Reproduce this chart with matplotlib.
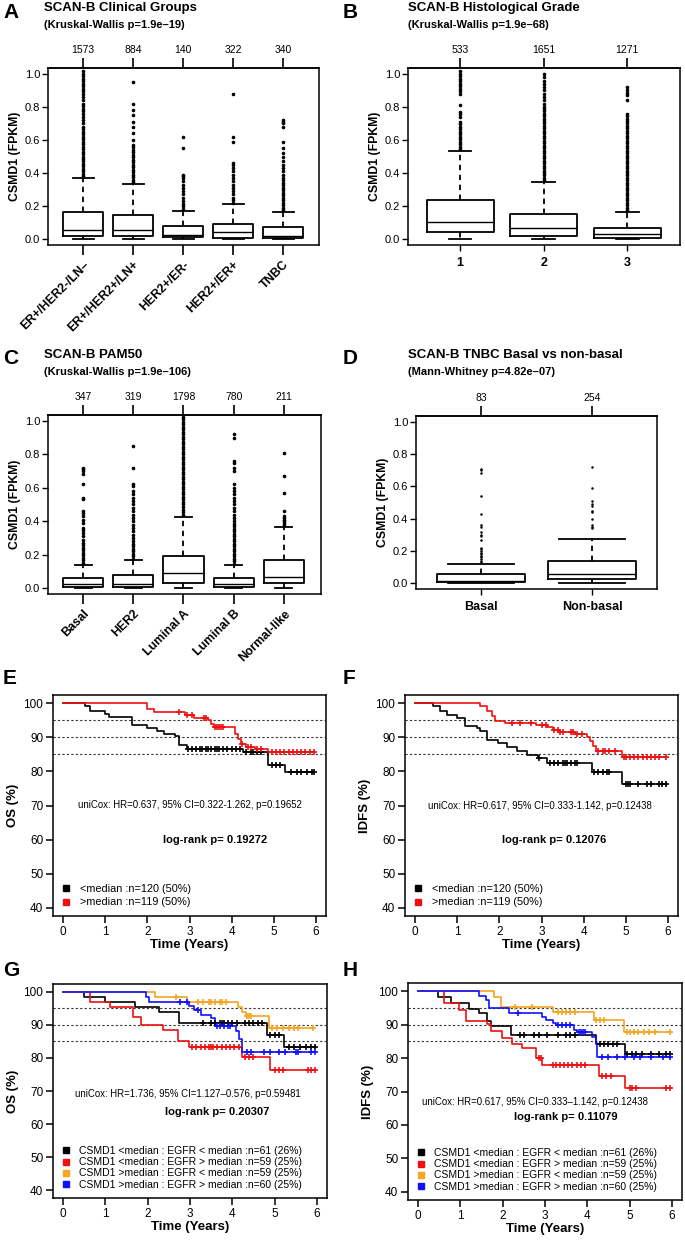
import numpy as np
import matplotlib
matplotlib.use('Agg')
import matplotlib.pyplot as plt
from matplotlib.lines import Line2D

plt.rcParams['font.family'] = ['Liberation Sans', 'DejaVu Sans']
plt.rcParams['axes.linewidth'] = 1.1

# ---------------- box plot data (CSMD1 FPKM) ----------------
a_cats = ['ER+/HER2-/LN–', 'ER+/HER2+/LN+', 'HER2+/ER-', 'HER2+/ER+', 'TNBC']
a_n = [1573, 884, 140, 322, 340]
a_q1 = [0.018, 0.018, 0.010, 0.008, 0.008]
a_med = [0.055, 0.055, 0.024, 0.040, 0.020]
a_q3 = [0.164, 0.145, 0.080, 0.090, 0.075]
a_lo = [0.0, 0.0, 0.0, 0.0, 0.0]
a_hi = [0.370, 0.333, 0.172, 0.210, 0.164]
a_out = [
    [0.38, 0.395, 0.41, 0.425, 0.44, 0.455, 0.47, 0.485, 0.50, 0.515, 0.53, 0.545, 0.56, 0.575,
     0.59, 0.605, 0.62, 0.635, 0.65, 0.665, 0.68, 0.70, 0.72, 0.74, 0.76, 0.775, 0.79, 0.805,
     0.82, 0.84, 0.86, 0.88, 0.895, 0.91, 0.925, 0.94, 0.955, 0.97, 0.985, 1.0, 1.02],
    [0.345, 0.36, 0.375, 0.39, 0.405, 0.42, 0.435, 0.45, 0.465, 0.48, 0.495, 0.51, 0.525, 0.54,
     0.555, 0.57, 0.60, 0.64, 0.68, 0.71, 0.75, 0.78, 0.82, 0.95],
    [0.185, 0.20, 0.215, 0.23, 0.25, 0.27, 0.29, 0.31, 0.33, 0.35, 0.37, 0.38, 0.39, 0.55, 0.62],
    [0.22, 0.235, 0.25, 0.27, 0.29, 0.31, 0.33, 0.35, 0.37, 0.39, 0.41, 0.43, 0.45, 0.46, 0.59,
     0.62, 0.88],
    [0.175, 0.19, 0.205, 0.22, 0.235, 0.25, 0.265, 0.28, 0.295, 0.31, 0.325, 0.34, 0.355, 0.37,
     0.39, 0.41, 0.43, 0.45, 0.47, 0.50, 0.52, 0.55, 0.59, 0.68, 0.70, 0.71, 0.72],
]

b_cats = ['1', '2', '3']
b_n = [533, 1651, 1271]
b_q1 = [0.040, 0.020, 0.008]
b_med = [0.105, 0.065, 0.030]
b_q3 = [0.236, 0.150, 0.065]
b_lo = [0.0, 0.0, 0.0]
b_hi = [0.535, 0.345, 0.164]
b_out = [
    [0.545, 0.56, 0.575, 0.59, 0.605, 0.62, 0.635, 0.65, 0.665, 0.68, 0.695, 0.71, 0.74, 0.755,
     0.77, 0.81, 0.88, 0.895, 0.91, 0.925, 0.94, 0.955, 0.97, 0.985, 1.0, 1.02],
    [0.355, 0.37, 0.385, 0.40, 0.415, 0.43, 0.445, 0.46, 0.475, 0.49, 0.505, 0.52, 0.535, 0.55,
     0.565, 0.58, 0.595, 0.61, 0.625, 0.64, 0.655, 0.67, 0.685, 0.70, 0.715, 0.73, 0.745, 0.76,
     0.775, 0.79, 0.80, 0.82, 0.84, 0.86, 0.88, 0.90, 0.92, 0.94, 0.96, 0.98, 1.0],
    [0.175, 0.19, 0.205, 0.22, 0.235, 0.25, 0.265, 0.28, 0.295, 0.31, 0.325, 0.34, 0.355, 0.37,
     0.385, 0.40, 0.415, 0.43, 0.445, 0.46, 0.475, 0.49, 0.505, 0.52, 0.535, 0.55, 0.565, 0.58,
     0.595, 0.61, 0.625, 0.64, 0.655, 0.67, 0.685, 0.70, 0.715, 0.73, 0.745, 0.76, 0.84, 0.87,
     0.885, 0.90, 0.92],
]

c_cats = ['Basal', 'HER2', 'Luminal A', 'Luminal B', 'Normal-like']
c_n = [347, 319, 1798, 780, 211]
c_q1 = [0.008, 0.008, 0.032, 0.008, 0.030]
c_med = [0.025, 0.025, 0.088, 0.025, 0.066]
c_q3 = [0.062, 0.076, 0.192, 0.062, 0.170]
c_lo = [0.0, 0.0, 0.0, 0.0, 0.0]
c_hi = [0.138, 0.166, 0.426, 0.135, 0.367]
c_out = [
    [0.15, 0.165, 0.18, 0.195, 0.21, 0.225, 0.24, 0.255, 0.27, 0.29, 0.31, 0.33, 0.35, 0.36,
     0.39, 0.41, 0.43, 0.45, 0.46, 0.53, 0.54, 0.62, 0.68, 0.70, 0.71, 0.72],
    [0.175, 0.19, 0.205, 0.22, 0.235, 0.25, 0.265, 0.28, 0.30, 0.32, 0.34, 0.36, 0.38, 0.40,
     0.42, 0.44, 0.46, 0.48, 0.50, 0.52, 0.54, 0.56, 0.58, 0.61, 0.62, 0.72, 0.85],
    [0.44, 0.455, 0.47, 0.485, 0.50, 0.515, 0.53, 0.545, 0.56, 0.575, 0.59, 0.605, 0.62, 0.635,
     0.65, 0.665, 0.68, 0.695, 0.71, 0.725, 0.74, 0.755, 0.77, 0.785, 0.80, 0.815, 0.83, 0.845,
     0.86, 0.875, 0.89, 0.905, 0.92, 0.935, 0.95, 0.965, 0.98, 0.995, 1.01, 1.025],
    [0.145, 0.16, 0.175, 0.19, 0.205, 0.22, 0.235, 0.25, 0.265, 0.28, 0.295, 0.31, 0.325, 0.34,
     0.355, 0.37, 0.385, 0.40, 0.42, 0.44, 0.46, 0.48, 0.50, 0.52, 0.54, 0.56, 0.58, 0.60, 0.62,
     0.70, 0.72, 0.75, 0.76, 0.90, 0.92],
    [0.38, 0.39, 0.40, 0.41, 0.42, 0.43, 0.46, 0.57, 0.67, 0.81],
]

d_cats = ['Basal', 'Non-basal']
d_n = [83, 254]
d_q1 = [0.005, 0.023]
d_med = [0.015, 0.060]
d_q3 = [0.056, 0.139]
d_lo = [0.0, 0.0]
d_hi = [0.122, 0.275]
d_out = [
    [0.13, 0.14, 0.15, 0.16, 0.17, 0.18, 0.19, 0.20, 0.21, 0.22, 0.27, 0.29, 0.30, 0.32, 0.35,
     0.36, 0.43, 0.54, 0.68, 0.70, 0.71],
    [0.34, 0.35, 0.36, 0.40, 0.44, 0.45, 0.48, 0.49, 0.51, 0.59, 0.72],
]

# ---------------- Kaplan-Meier data (time in years, survival %) ----------------
e_blk_t = [0.52, 0.64, 1.0, 1.1, 1.64, 1.98, 2.23, 2.39, 2.66, 2.74, 2.94, 4.28, 4.86, 5.26]
e_blk_s = [99.2, 97.7, 96.9, 95.9, 93.6, 92.6, 91.9, 91.1, 90.4, 87.7, 86.7, 85.8, 82.0, 79.9]
e_blk_c = [2.96, 3.05, 3.15, 3.25, 3.3, 3.4, 3.45, 3.5, 3.6, 3.65, 3.7, 3.8, 3.9, 4.0, 4.1, 4.2,
           4.35, 4.45, 4.5, 4.6, 4.7, 4.95, 5.05, 5.15, 5.4, 5.55, 5.65, 5.8, 5.9, 5.95]
e_red_t = [1.98, 2.15, 2.9, 3.1, 3.45, 3.5, 3.57, 4.07, 4.15, 4.23, 4.35, 4.55, 4.86]
e_red_s = [98.4, 97.4, 96.4, 95.7, 95.1, 93.9, 92.9, 91.0, 89.6, 88.1, 87.2, 86.7, 85.8]
e_red_c = [2.74, 2.95, 3.05, 3.35, 3.4, 3.6, 3.65, 3.7, 3.75, 3.8, 4.25, 4.4, 4.45, 4.6, 4.7,
           4.95, 5.05, 5.15, 5.25, 5.35, 5.45, 5.55, 5.65, 5.75, 5.85, 5.95]

f_blk_t = [0.43, 0.60, 0.75, 0.99, 1.18, 1.46, 1.54, 1.70, 1.97, 2.17, 2.41, 2.65, 2.92, 3.12,
           4.2, 4.92]
f_blk_s = [99.1, 97.6, 96.6, 95.7, 93.4, 92.8, 91.8, 89.1, 88.3, 87.1, 86.1, 84.9, 83.8, 82.5,
           79.8, 76.4]
f_blk_c = [2.95, 3.2, 3.3, 3.4, 3.5, 3.55, 3.6, 3.7, 3.8, 3.85, 4.25, 4.35, 4.45, 4.55, 4.6,
           5.0, 5.05, 5.1, 5.3, 5.5, 5.6, 5.8, 5.85, 5.95]
f_red_t = [1.54, 1.70, 1.82, 1.90, 2.13, 2.88, 3.12, 3.28, 3.44, 3.80, 4.07, 4.15, 4.23, 4.30,
           4.90]
f_red_s = [99.1, 97.6, 96.2, 94.9, 94.2, 93.7, 93.0, 92.2, 91.5, 91.0, 90.2, 88.8, 87.3, 86.0,
           84.3]
f_red_c = [2.3, 2.5, 2.75, 3.0, 3.1, 3.3, 3.4, 3.45, 3.5, 3.7, 3.75, 3.85, 3.95, 4.35, 4.45,
           4.5, 4.6, 4.75, 4.95, 5.0, 5.1, 5.2, 5.3, 5.4, 5.5, 5.6, 5.7, 5.8, 5.95]

g_blk_t = [0.5, 1.0, 1.7, 2.26, 2.73, 4.83, 5.22]
g_blk_s = [98.4, 97.1, 95.4, 93.8, 90.5, 87.1, 83.3]
g_blk_c = [3.3, 3.5, 3.6, 3.7, 3.75, 3.8, 3.9, 4.0, 4.1, 4.3, 4.4, 4.5, 4.6, 4.7, 4.9, 5.0, 5.1,
           5.35, 5.45, 5.6, 5.75, 5.85, 5.95]
g_red_t = [0.64, 1.1, 1.65, 1.85, 2.36, 2.72, 2.97, 4.24, 4.9]
g_red_s = [96.9, 95.4, 92.3, 90.1, 88.6, 85.0, 83.3, 80.3, 76.3]
g_red_c = [3.05, 3.15, 3.25, 3.35, 3.45, 3.5, 3.55, 3.65, 3.75, 3.85, 3.95, 4.05, 4.15, 4.3,
           4.4, 4.5, 5.0, 5.1, 5.2, 5.8, 5.85, 5.95]
g_org_t = [2.17, 2.94, 4.13, 4.24, 4.32, 4.86]
g_org_s = [98.6, 96.9, 95.3, 93.8, 92.8, 89.1]
g_org_c = [2.68, 3.2, 3.3, 3.45, 3.5, 3.6, 3.7, 3.75, 3.85, 4.35, 4.4, 4.45, 4.95, 5.05, 5.2,
           5.35, 5.45, 5.55, 5.9]
g_blu_t = [1.97, 2.04, 2.98, 3.1, 3.26, 3.5, 3.6, 4.09, 4.16, 4.24]
g_blu_s = [98.4, 96.9, 95.6, 94.6, 93.1, 92.1, 89.6, 88.1, 85.6, 81.8]
g_blu_c = [2.76, 2.94, 3.2, 3.65, 3.7, 3.8, 3.9, 3.95, 4.35, 4.45, 4.75, 4.9, 5.1, 5.25, 5.5,
           5.55, 5.85, 5.95]

h_blk_t = [0.46, 0.77, 1.2, 1.44, 1.64, 1.72, 2.2, 4.2, 4.89]
h_blk_s = [98.2, 96.3, 94.6, 93.3, 91.1, 89.6, 86.8, 84.3, 81.3]
h_blk_c = [2.4, 2.5, 2.75, 2.85, 3.05, 3.3, 3.5, 3.6, 3.7, 4.3, 4.4, 4.5, 4.6, 4.7, 4.95, 5.05,
           5.15, 5.3, 5.5, 5.7, 5.85, 5.95]
h_red_t = [0.61, 0.97, 1.13, 1.64, 1.72, 1.99, 2.23, 2.46, 2.78, 2.94, 4.28, 4.9]
h_red_s = [96.3, 94.3, 91.1, 90.3, 88.1, 86.1, 84.3, 83.0, 80.0, 77.8, 74.5, 70.9]
h_red_c = [2.85, 2.9, 3.2, 3.25, 3.35, 3.45, 3.55, 3.65, 3.75, 3.85, 3.95, 4.35, 4.45, 4.55,
           5.0, 5.05, 5.15, 5.85, 5.95]
h_org_t = [1.79, 1.95, 3.2, 4.15, 4.87]
h_org_s = [98.1, 95.1, 93.6, 91.3, 87.7]
h_org_c = [2.3, 2.7, 3.3, 3.4, 3.5, 3.6, 3.7, 4.2, 4.3, 4.4, 4.95, 5.0, 5.1, 5.2, 5.35, 5.45,
           5.6, 5.95]
h_blu_t = [1.44, 1.6, 1.68, 2.15, 2.94, 3.02, 3.18, 3.25, 3.69, 3.75, 4.12, 4.2, 4.24]
h_blu_s = [98.5, 97.3, 94.8, 93.3, 92.3, 91.5, 90.5, 89.8, 88.4, 87.9, 86.4, 84.4, 80.2]
h_blu_c = [2.35, 3.3, 3.4, 3.5, 3.6, 3.8, 3.85, 3.9, 3.95, 4.35, 4.5, 4.7, 4.9, 5.1, 5.25, 5.5,
           5.8, 5.95]

BLACK, RED, ORANGE, BLUE = 'black', '#ee1111', '#f5a623', '#1010ff'

two_labels = ['<median :n=120 (50%)', '>median :n=119 (50%)']
four_labels = ['CSMD1 <median : EGFR < median :n=61 (26%)',
               'CSMD1 <median : EGFR > median :n=59 (25%)',
               'CSMD1 >median : EGFR < median :n=59 (25%)',
               'CSMD1 >median : EGFR > median :n=60 (25%)']

W, H = 685, 1240
fig = plt.figure(figsize=(W / 100, H / 100), dpi=100)


def ax_at(l, t, r, b):
    return fig.add_axes([l / W, 1 - b / H, (r - l) / W, (b - t) / H])


def ftext(x, y, s, **kw):
    fig.text(x / W, 1 - y / H, s, va='center', ha='left', **kw)


def box_panel(ax, cats, n, q1, med, q3, lo, hi, out, xlim, capw, rot=True, fms=2.6):
    pos = np.arange(1, len(cats) + 1)
    stats = [dict(med=m, q1=a, q3=b, whislo=l, whishi=h, fliers=o)
             for a, m, b, l, h, o in zip(q1, med, q3, lo, hi, out)]
    ax.bxp(stats, positions=pos, widths=0.8, capwidths=capw,
           boxprops=dict(lw=1.3, color='black'),
           whiskerprops=dict(lw=1.3, color='black', ls=(0, (3, 2.5))),
           capprops=dict(lw=1.3, color='black'),
           medianprops=dict(lw=1.0, color='black'),
           flierprops=dict(marker='o', ms=fms, mfc='black', mec='black', mew=0))
    ax.set_xlim(*xlim)
    ax.set_ylim(-0.036, 1.036)
    ax.set_yticks([0, 0.2, 0.4, 0.6, 0.8, 1.0])
    ax.set_yticklabels(['0.0', '0.2', '0.4', '0.6', '0.8', '1.0'])
    ax.tick_params(axis='y', length=4, width=1, labelsize=8, pad=1.5)
    ax.set_xticks(pos)
    if rot:
        ax.set_xticklabels(cats, rotation=45, ha='right', rotation_mode='anchor',
                           fontweight='bold', fontsize=8.8)
        ax.tick_params(axis='x', length=7, width=1.2, pad=3)
    else:
        ax.set_xticklabels(cats, fontweight='bold', fontsize=9)
        ax.tick_params(axis='x', length=4, width=1, pad=5)
    sec = ax.secondary_xaxis('top')
    sec.set_xticks(pos, labels=[str(v) for v in n])
    sec.tick_params(length=7, width=1.2, labelsize=7.5, pad=2)
    ax.set_ylabel('CSMD1 (FPKM)', fontweight='bold', fontsize=8.8, labelpad=3)


def km_panel(ax, curves, ylabel, unicox, uxy, logrank, lxy, labels, lfs, lspace):
    for y in (85, 90, 95):
        ax.axhline(y, color='0.2', lw=0.8, ls=(0, (2, 2)), zorder=1)
    for t, s, cens, col in curves:
        tt = [0.0] + list(t) + [max(cens)]
        ss = [100.0] + list(s) + [s[-1]]
        ax.step(tt, ss, where='post', color=col, lw=1.2, zorder=2)
        idx = np.searchsorted(t, cens, side='right')
        cy = np.array([100.0] + list(s))[idx]
        ax.plot(cens, cy, ls='', marker='+', ms=5, mew=1.2, color=col, zorder=3)
    ax.set_xlim(-0.24, 6.24)
    ax.set_ylim(37.6, 102.4)
    ax.set_xticks(range(7))
    ax.set_yticks(range(40, 101, 10))
    ax.tick_params(length=5, width=1.1, labelsize=8.5, pad=2)
    ax.set_xlabel('Time (Years)', fontweight='bold', fontsize=9.5, labelpad=1)
    ax.set_ylabel(ylabel, fontweight='bold', fontsize=9.5, labelpad=3)
    ax.text(uxy[0], uxy[1], unicox, ha='center', va='center', fontsize=6.9)
    ax.text(lxy[0], lxy[1], logrank, ha='center', va='center', fontsize=8, fontweight='bold')
    handles = [Line2D([], [], ls='', marker='s', ms=5, color=c[3]) for c in curves]
    ax.legend(handles, labels, loc='lower left', bbox_to_anchor=(0.0, 0.0), frameon=False,
              fontsize=lfs, handlelength=0.8, handletextpad=0.9, labelspacing=lspace,
              borderaxespad=0.5, borderpad=0.3)


# ---- A ----
axA = ax_at(48, 68, 319, 245)
box_panel(axA, a_cats, a_n, a_q1, a_med, a_q3, a_lo, a_hi, a_out, (0.3, 5.72), 0.42)
ftext(3, 12, 'A', fontsize=15, fontweight='bold')
ftext(44, 8, 'SCAN-B Clinical Groups', fontsize=9.5, fontweight='bold')
ftext(44, 25, '(Kruskal-Wallis p=1.9e–19)', fontsize=8, fontweight='bold')

# ---- B ----
axB = ax_at(408, 68, 680, 245)
box_panel(axB, b_cats, b_n, b_q1, b_med, b_q3, b_lo, b_hi, b_out, (0.377, 3.63), 0.27, rot=False)
ftext(343, 12, 'B', fontsize=15, fontweight='bold')
ftext(408, 8, 'SCAN-B Histological Grade', fontsize=9.5, fontweight='bold')
ftext(408, 25, '(Kruskal-Wallis p=1.9e–68)', fontsize=8, fontweight='bold')

# ---- C ----
axC = ax_at(48, 415, 321, 594)
box_panel(axC, c_cats, c_n, c_q1, c_med, c_q3, c_lo, c_hi, c_out, (0.3, 5.74), 0.34)
ftext(3, 359, 'C', fontsize=15, fontweight='bold')
ftext(44, 355, 'SCAN-B PAM50', fontsize=9.5, fontweight='bold')
ftext(44, 372, '(Kruskal-Wallis p=1.9e–106)', fontsize=8, fontweight='bold')

# ---- D ----
axD = ax_at(416, 416, 657, 589)
box_panel(axD, d_cats, d_n, d_q1, d_med, d_q3, d_lo, d_hi, d_out, (0.414, 2.586), 0.6,
          rot=False, fms=1.8)
ftext(343, 359, 'D', fontsize=15, fontweight='bold')
ftext(408, 355, 'SCAN-B TNBC Basal vs non-basal', fontsize=9.5, fontweight='bold')
ftext(408, 372, '(Mann-Whitney p=4.82e–07)', fontsize=8, fontweight='bold')

# ---- E ----
axE = ax_at(53, 695, 326, 916)
km_panel(axE, [(e_blk_t, e_blk_s, e_blk_c, BLACK), (e_red_t, e_red_s, e_red_c, RED)],
         'OS (%)', 'uniCox: HR=0.637, 95% CI=0.322-1.262, p=0.19652', (3.0, 70.2),
         'log-rank p= 0.19272', (3.6, 60.0), two_labels, 7.8, 0.35)
ftext(3, 679, 'E', fontsize=15, fontweight='bold')

# ---- F ----
axF = ax_at(405, 695, 678, 916)
km_panel(axF, [(f_blk_t, f_blk_s, f_blk_c, BLACK), (f_red_t, f_red_s, f_red_c, RED)],
         'IDFS (%)', 'uniCox: HR=0.617, 95% CI=0.333-1.142, p=0.12438', (2.96, 70.0),
         'log-rank p= 0.12076', (3.3, 60.0), two_labels, 7.8, 0.35)
ftext(343, 679, 'F', fontsize=15, fontweight='bold')

# ---- G ----
axG = ax_at(53, 984, 327, 1198)
km_panel(axG, [(g_blk_t, g_blk_s, g_blk_c, BLACK), (g_red_t, g_red_s, g_red_c, RED),
               (g_org_t, g_org_s, g_org_c, ORANGE), (g_blu_t, g_blu_s, g_blu_c, BLUE)],
         'OS (%)', 'uniCox: HR=1.736, 95% CI=1.127–0.576, p=0.59481', (2.96, 69.2),
         'log-rank p= 0.20307', (3.65, 63.7), four_labels, 7.5, 0.12)
ftext(3, 970, 'G', fontsize=15, fontweight='bold')

# ---- H ----
axH = ax_at(408, 983, 682, 1200)
km_panel(axH, [(h_blk_t, h_blk_s, h_blk_c, BLACK), (h_red_t, h_red_s, h_red_c, RED),
               (h_org_t, h_org_s, h_org_c, ORANGE), (h_blu_t, h_blu_s, h_blu_c, BLUE)],
         'IDFS (%)', 'uniCox: HR=0.617, 95% CI=0.333–1.142, p=0.12438', (2.76, 66.9),
         'log-rank p= 0.11079', (3.5, 62.3), four_labels, 7.5, 0.12)
ftext(343, 970, 'H', fontsize=15, fontweight='bold')

fig.savefig('out.png', dpi=100)
